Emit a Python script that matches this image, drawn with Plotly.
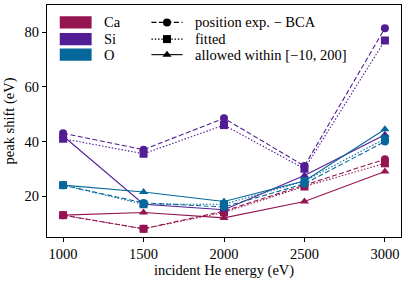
import plotly.graph_objects as go

energies = [1000, 1500, 2000, 2500, 3000]
elements = ["Ca", "Si", "O"]
colors = {"Ca": "#951550", "Si": "#521c94", "O": "#06689a"}

ca_exp = [13, 8, 14.5, 24, 33.5]
ca_fit = [13, 8, 14, 23.5, 32]
ca_allowed = [13, 14, 12, 18, 29]
si_exp = [43, 37, 48.5, 31, 81.5]
si_fit = [41, 35.5, 46, 30, 77]
si_allowed = [42, 17, 15, 27.5, 42.5]
o_exp = [24, 17.5, 16, 24.5, 40]
o_fit = [24, 17, 17, 25.5, 41]
o_allowed = [24, 21.5, 18, 25.5, 44.5]

series = {
    "Ca": (ca_exp, ca_fit, ca_allowed),
    "Si": (si_exp, si_fit, si_allowed),
    "O": (o_exp, o_fit, o_allowed),
}
styles = [("5px,2.5px", "circle"), ("1.5px,1.8px", "square"), ("solid", "triangle-up")]
style_labels = ["position exp. − BCA", "fitted", "allowed within [−10, 200]"]

FONT = "Liberation Serif"
FS = 14.5
fig = go.Figure()
for el in elements:
    for vals, (dash, sym) in zip(series[el], styles):
        fig.add_trace(go.Scatter(
            x=energies, y=vals, mode="lines+markers",
            line=dict(color=colors[el], width=1.1, dash=dash),
            marker=dict(color=colors[el], symbol=sym, size=8),
            showlegend=False, hoverinfo="skip"))

# manual legend
shapes = []
annotations = []
row_y = [0.925, 0.853, 0.786]
for i, el in enumerate(elements):
    yc = row_y[i]
    shapes.append(dict(type="rect", xref="paper", yref="paper",
                       x0=0.036, x1=0.126, y0=yc - 0.026, y1=yc + 0.026,
                       fillcolor=colors[el], line=dict(width=0)))
    annotations.append(dict(xref="paper", yref="paper", x=0.155, y=yc,
                            text=el, showarrow=False, xanchor="left", yanchor="middle",
                            font=dict(family=FONT, size=FS, color="black")))
for i, (lab, (dash, sym)) in enumerate(zip(style_labels, styles)):
    yc = row_y[i]
    shapes.append(dict(type="line", xref="paper", yref="paper",
                       x0=0.295, x1=0.383, y0=yc, y1=yc,
                       line=dict(color="black", width=1.1, dash=dash)))
    annotations.append(dict(xref="paper", yref="paper", x=0.413, y=yc,
                            text=lab, showarrow=False, xanchor="left", yanchor="middle",
                            font=dict(family=FONT, size=FS, color="black")))
fig.add_trace(go.Scatter(
    x=[0.339, 0.339, 0.339], y=row_y, xaxis="x2", yaxis="y2", mode="markers",
    marker=dict(color="black", symbol=[s for _, s in styles], size=8),
    showlegend=False, hoverinfo="skip"))

axis_common = dict(showline=True, linecolor="black", linewidth=1, mirror=True,
                   ticks="outside", ticklen=4, tickcolor="black", showgrid=False,
                   zeroline=False, tickfont=dict(family=FONT, size=FS, color="black"))
fig.update_layout(
    width=407, height=283,
    margin=dict(l=47, r=6, t=5, b=46),
    plot_bgcolor="white", paper_bgcolor="white",
    xaxis=dict(range=[900, 3100], tickvals=energies,
               title=dict(text="incident He energy (eV)", standoff=3,
                          font=dict(family=FONT, size=FS, color="black")),
               **axis_common),
    yaxis=dict(range=[5, 90], tickvals=[20, 40, 60, 80],
               title=dict(text="peak shift (eV)", standoff=6,
                          font=dict(family=FONT, size=FS, color="black")),
               **axis_common),
    xaxis2=dict(range=[0, 1], overlaying="x", visible=False),
    yaxis2=dict(range=[0, 1], overlaying="y", visible=False),
    shapes=shapes, annotations=annotations,
)
fig.write_html("out.html", config={"displayModeBar": False},
               post_script="document.body.style.margin='0';")
